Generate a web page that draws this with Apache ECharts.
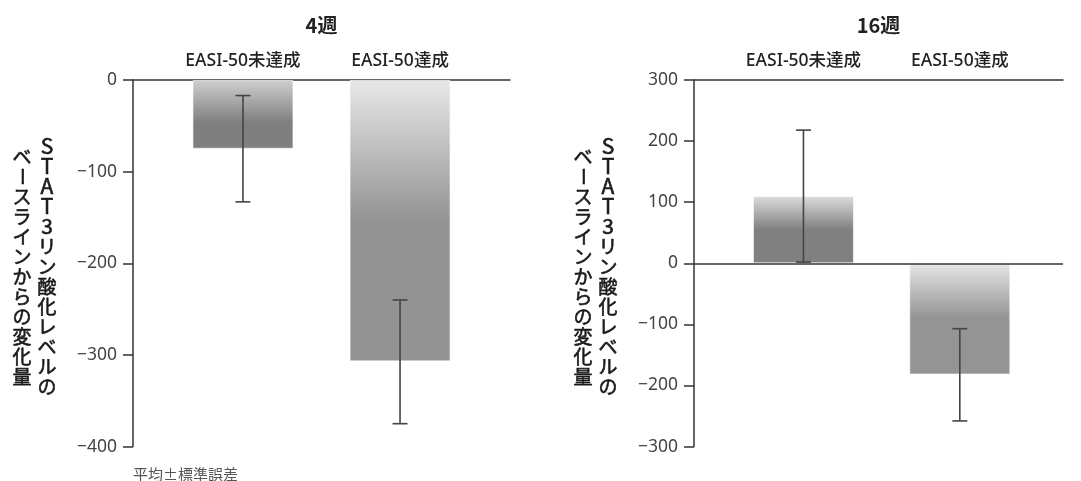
<!DOCTYPE html>
<html><head><meta charset="utf-8">
<script src="https://cdn.jsdelivr.net/npm/echarts@6/dist/echarts.min.js"></script>
<style>html,body{margin:0;padding:0;background:#fff}#c{width:1081px;height:481px}</style>
</head><body><div id="c"></div>
<script>
// ---- data ----
const categories = ['EASI-50未達成', 'EASI-50達成'];
const panelTitles = ['4週', '16週'];
const means4 = [-75, -307];
const errLow4 = [-133, -375];
const errHigh4 = [-17, -240];
const means16 = [110, -182];
const errLow16 = [2, -258];
const errHigh16 = [218, -107];
const yRange4 = [-400, 0];
const yRange16 = [-300, 300];
const yTickStep = 100;
const yName1 = 'STAT3リン酸化レベルの';
const yName2 = 'ベースラインからの変化量';
const footnote = '平均±標準誤差';

// ---- styles ----
const CJK = "'Noto Sans CJK JP', 'Noto Sans', sans-serif";
const LAT = "'Noto Sans', 'Noto Sans CJK JP', sans-serif";
const AX = '#333';

function grad(top, bottom, stop) {
  return new echarts.graphic.LinearGradient(0, 0, 0, 1, [
    {offset: 0, color: top}, {offset: stop, color: bottom}, {offset: 1, color: bottom}
  ]);
}
const barStyles = [
  [{top: '#cfcfcf', bottom: '#7f7f7f', stop: 0.62}, {top: '#e8e8e8', bottom: '#939393', stop: 0.5}],
  [{top: '#dcdcdc', bottom: '#808080', stop: 0.5}, {top: '#e6e6e6', bottom: '#949494', stop: 0.49}]
];

const panels = [
  {left: 133, width: 377, means: means4, lo: errLow4, hi: errHigh4, range: yRange4, xmax: 2.7, zero: false},
  {left: 694, width: 369, means: means16, lo: errLow16, hi: errHigh16, range: yRange16, xmax: 2.66, zero: true}
];

const grid = [], xAxis = [], yAxis = [], series = [], graphic = [];
panels.forEach((p, k) => {
  grid.push({left: p.left, top: 80, width: p.width, height: 366.6});
  xAxis.push({
    type: 'value', gridIndex: k, min: 0.3, max: p.xmax, position: 'top',
    axisLine: {show: true, onZero: false, lineStyle: {color: AX, width: 1.5}},
    axisTick: {show: false}, splitLine: {show: false},
    axisLabel: {
      show: true, customValues: categories.map((c, i) => i + 1), margin: 10,
      formatter: v => categories[Math.round(v) - 1] || '',
      color: '#222', fontSize: 17.5, fontFamily: LAT, fontWeight: 500
    }
  });
  yAxis.push({
    type: 'value', gridIndex: k, min: p.range[0], max: p.range[1], interval: yTickStep,
    axisLine: {show: true, onZero: false, lineStyle: {color: AX, width: 1.5}},
    axisTick: {show: true, length: 10, lineStyle: {color: AX, width: 1.5}},
    splitLine: {show: false},
    axisLabel: {margin: 16, color: '#444', fontSize: 17.5, fontFamily: LAT,
      formatter: v => String(v).replace('-', '\u2212')}
  });
  const bar = {
    type: 'bar', xAxisIndex: k, yAxisIndex: k, barWidth: 101,
    data: p.means.map((v, i) => ({
      value: [i + 1, v],
      itemStyle: {color: grad(barStyles[k][i].top, barStyles[k][i].bottom, barStyles[k][i].stop),
        borderColor: 'rgba(255,255,255,0.6)', borderWidth: 1}
    })),
    silent: true, z: 2
  };
  if (p.zero) {
    bar.markLine = {
      silent: true, symbol: ['none', 'none'], label: {show: false},
      lineStyle: {color: AX, width: 1.5, type: 'solid'},
      data: [{yAxis: 0}], z: 5
    };
  }
  series.push(bar);
  series.push({
    type: 'custom', xAxisIndex: k, yAxisIndex: k, z: 10, silent: true,
    encode: {x: 0, y: [1, 2]},
    data: p.means.map((v, i) => [i + 1, p.lo[i], p.hi[i]]),
    renderItem: (params, api) => {
      const x = api.value(0);
      const a = api.coord([x, api.value(1)]);
      const b = api.coord([x, api.value(2)]);
      const hw = 7.5;
      const style = {stroke: '#444', lineWidth: 1.6};
      return {type: 'group', children: [
        {type: 'line', shape: {x1: a[0], y1: a[1], x2: b[0], y2: b[1]}, style},
        {type: 'line', shape: {x1: a[0] - hw, y1: a[1], x2: a[0] + hw, y2: a[1]}, style},
        {type: 'line', shape: {x1: b[0] - hw, y1: b[1], x2: b[0] + hw, y2: b[1]}, style}
      ]};
    }
  });
  // panel title
  graphic.push({type: 'text', x: p.left + p.width / 2, y: 25,
    style: {text: panelTitles[k], align: 'center', verticalAlign: 'middle',
      fontSize: 20, fontWeight: 'bold', fontFamily: CJK, fill: '#222'}});
  // vertical axis names
  const cols = [{txt: yName1, cx: p.left - 86}, {txt: yName2, cx: p.left - 111}];
  cols.forEach(col => {
    const chars = Array.from(col.txt);
    const pitch = 20;
    const y0 = 266.5 - (chars.length - 1) / 2 * pitch;
    chars.forEach((ch, j) => {
      const latin = /[A-Za-z0-9]/.test(ch);
      graphic.push({type: 'text', x: col.cx, y: y0 + j * pitch,
        rotation: ch === 'ー' ? -Math.PI / 2 : 0,
        style: {text: ch, align: 'center', verticalAlign: 'middle',
          fontSize: latin ? 21 : 19, fontWeight: 'normal', fontFamily: CJK, fill: '#1a1a1a',
          stroke: '#1a1a1a', lineWidth: 0.6}});
    });
  });
});
graphic.push({type: 'text', x: 133, y: 474,
  style: {text: footnote, align: 'left', verticalAlign: 'middle',
    fontSize: 15, fontFamily: CJK, fill: '#555'}});

const chart = echarts.init(document.getElementById('c'), null, {renderer: 'canvas'});
chart.setOption({backgroundColor: '#fff', animation: false, grid, xAxis, yAxis, series, graphic});
</script></body></html>
